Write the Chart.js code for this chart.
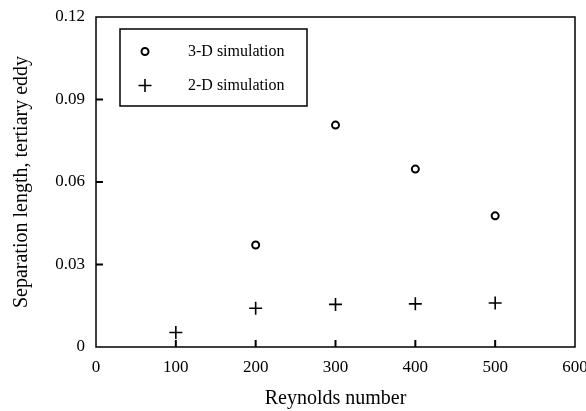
<!DOCTYPE html>
<html>
<head>
<meta charset="utf-8">
<script src="https://cdn.jsdelivr.net/npm/chart.js@4/dist/chart.umd.min.js"></script>
<style>
html,body{margin:0;padding:0;background:#fff;}
#wrap{width:586px;height:411px;position:relative;}
</style>
</head>
<body>
<div id="wrap"><canvas id="c" width="586" height="411"></canvas></div>
<script>
const reynolds3D = [200, 300, 400, 500];
const sep3D = [0.0371, 0.0807, 0.0647, 0.0477];
const reynolds2D = [100, 200, 300, 400, 500];
const sep2D = [0.0053, 0.0141, 0.0155, 0.0157, 0.0160];
const xTicks = [0, 100, 200, 300, 400, 500, 600];
const yTicks = [0, 0.03, 0.06, 0.09, 0.12];
const yTickLabels = ['0', '0.03', '0.06', '0.09', '0.12'];
const seriesLabels = ['3-D simulation', '2-D simulation'];
const xTitle = 'Reynolds number';
const yTitle = 'Separation length, tertiary eddy';

const FONT = "'Liberation Serif', 'DejaVu Serif', serif";

const frameAndTicks = {
  id: 'frameAndTicks',
  afterDraw(chart) {
    const ctx = chart.ctx, a = chart.chartArea;
    const xs = chart.scales.x, ys = chart.scales.y;
    ctx.save();
    ctx.strokeStyle = '#000';
    ctx.lineWidth = 1.5;
    ctx.strokeRect(a.left, a.top, a.right - a.left, a.bottom - a.top);
    ctx.lineWidth = 2;
    ctx.beginPath();
    xTicks.forEach(v => {
      if (v === xTicks[0] || v === xTicks[xTicks.length - 1]) return;
      const px = xs.getPixelForValue(v);
      ctx.moveTo(px, a.bottom);
      ctx.lineTo(px, a.bottom - 7);
    });
    yTicks.forEach(v => {
      if (v === yTicks[0] || v === yTicks[yTicks.length - 1]) return;
      const py = ys.getPixelForValue(v);
      ctx.moveTo(a.left, py);
      ctx.lineTo(a.left + 7, py);
    });
    ctx.stroke();

    // legend box
    const lx = 120, ly = 29, lw = 187, lh = 77;
    ctx.lineWidth = 1.5;
    ctx.strokeRect(lx, ly, lw, lh);
    ctx.font = '16px ' + FONT;
    ctx.fillStyle = '#000';
    ctx.textBaseline = 'middle';
    ctx.textAlign = 'left';
    const rows = [51.5, 85.5];
    chart.data.datasets.forEach((ds, i) => {
      const y = rows[i], x = 145;
      ctx.lineWidth = ds.borderWidth;
      ctx.beginPath();
      if (ds.pointStyle === 'circle') {
        ctx.arc(x, y, ds.pointRadius, 0, Math.PI * 2);
      } else {
        ctx.moveTo(x - ds.pointRadius, y); ctx.lineTo(x + ds.pointRadius, y);
        ctx.moveTo(x, y - ds.pointRadius); ctx.lineTo(x, y + ds.pointRadius);
      }
      ctx.stroke();
      ctx.fillText(ds.label, 188, y);
    });
    ctx.restore();
  }
};

new Chart(document.getElementById('c'), {
  type: 'scatter',
  data: {
    datasets: [
      {
        label: seriesLabels[0],
        data: reynolds3D.map((x, i) => ({ x: x, y: sep3D[i] })),
        pointStyle: 'circle',
        pointRadius: 3.5,
        borderWidth: 2,
        borderColor: '#000',
        backgroundColor: 'rgba(0,0,0,0)'
      },
      {
        label: seriesLabels[1],
        data: reynolds2D.map((x, i) => ({ x: x, y: sep2D[i] })),
        pointStyle: 'cross',
        pointRadius: 6.5,
        borderWidth: 1.6,
        borderColor: '#000',
        backgroundColor: '#000'
      }
    ]
  },
  options: {
    responsive: false,
    animation: false,
    events: [],
    layout: { padding: { left: 0, top: 17, right: 11, bottom: 0 } },
    plugins: { legend: { display: false }, tooltip: { enabled: false } },
    scales: {
      x: {
        type: 'linear',
        min: 0, max: 600,
        afterBuildTicks: s => { s.ticks = xTicks.map(v => ({ value: v })); },
        afterFit: s => { s.height = 64; s.paddingRight = 0; s.paddingLeft = 0; },
        grid: { display: false },
        border: { display: false },
        ticks: {
          color: '#000',
          font: { family: FONT, size: 17 },
          padding: 2,
          maxRotation: 0,
          autoSkip: false,
          callback: v => String(v)
        },
        title: {
          display: true,
          text: xTitle,
          color: '#000',
          font: { family: FONT, size: 20 },
          padding: { top: 0, bottom: 0 }
        }
      },
      y: {
        type: 'linear',
        min: 0, max: 0.12,
        afterBuildTicks: s => { s.ticks = yTicks.map(v => ({ value: v })); },
        afterFit: s => { s.width = 96; s.paddingTop = 0; s.paddingBottom = 0; },
        grid: { display: false },
        border: { display: false },
        ticks: {
          color: '#000',
          font: { family: FONT, size: 17 },
          padding: 3,
          autoSkip: false,
          callback: (v) => yTickLabels[yTicks.findIndex(t => Math.abs(t - v) < 1e-9)]
        },
        title: {
          display: true,
          text: yTitle,
          color: '#000',
          font: { family: FONT, size: 20 },
          padding: { top: 10, bottom: 0 }
        }
      }
    }
  },
  plugins: [frameAndTicks]
});
</script>
</body>
</html>
